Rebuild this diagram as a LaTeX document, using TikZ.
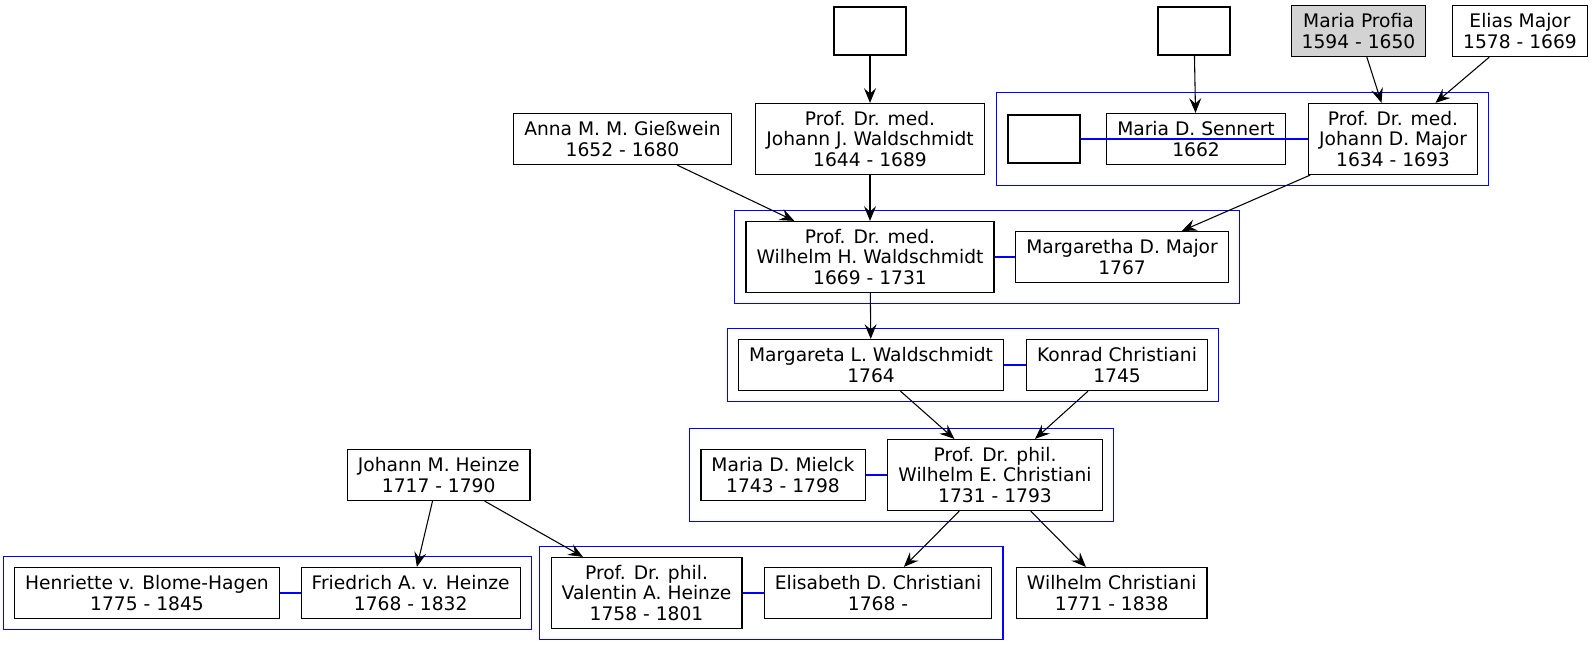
\documentclass[tikz,border=0pt]{standalone}
\usepackage{fontspec}
\setmainfont{DejaVu Sans}
\usetikzlibrary{arrows.meta,fit}
\definecolor{profiagray}{HTML}{D3D3D3}

\begin{document}
\begin{tikzpicture}[x=0.75pt, y=-0.75pt,
		person/.style={draw, line width=0.9pt, align=center, inner xsep=7.92pt, inner ysep=2pt, minimum height=38.25pt, font=\fontsize{14}{15.2}\selectfont},
		prof/.style={person, minimum height=53.25pt},
		blank/.style={draw, line width=0.9pt, minimum width=54pt, minimum height=36pt},
		family/.style={draw=blue, line width=0.9pt, inner sep=8pt},
		marriage/.style={draw=blue, line width=2pt},
		child/.style={-{Stealth[length=11pt, width=9pt, inset=4pt]}, line width=0.8pt}]
	\useasboundingbox (0,0) rectangle (1594,645);
	\node[blank] (b1) at (870,31) {};
	\node[blank] (b2) at (1194,31) {};
	\node[person, fill=profiagray] (profia) at (1358.5,31) {Maria Profia\\1594 - 1650};
	\node[person] (elias) at (1520,31) {Elias Major\\1578 - 1669};
	\node[person] (anna) at (622.5,139) {Anna M. M. Gießwein\\1652 - 1680};
	\node[prof] (jjw) at (870,139) {Prof. Dr. med.\\Johann J. Waldschmidt\\1644 - 1689};
	\node[blank] (b3) at (1044,139) {};
	\node[person] (sen) at (1196,139) {Maria D. Sennert\\1662};
	\node[prof] (jdm) at (1393,139) {Prof. Dr. med.\\Johann D. Major\\1634 - 1693};
	\node[prof] (whw) at (870,257) {Prof. Dr. med.\\Wilhelm H. Waldschmidt\\1669 - 1731};
	\node[person] (mdm) at (1122,257) {Margaretha D. Major\\1767};
	\node[person] (mlw) at (871,365) {Margareta L. Waldschmidt\\1764};
	\node[person] (kc) at (1117,365) {Konrad Christiani\\1745};
	\node[person] (mdmi) at (783,475) {Maria D. Mielck\\1743 - 1798};
	\node[prof] (wec) at (995,475) {Prof. Dr. phil.\\Wilhelm E. Christiani\\1731 - 1793};
	\node[person] (jmh) at (438.7,475) {Johann M. Heinze\\1717 - 1790};
	\node[person] (hen) at (147,593) {Henriette v. Blome-Hagen\\1775 - 1845};
	\node[person] (fah) at (410.7,593) {Friedrich A. v. Heinze\\1768 - 1832};
	\node[prof] (vah) at (646.5,593) {Prof. Dr. phil.\\Valentin A. Heinze\\1758 - 1801};
	\node[person] (edc) at (878,593) {Elisabeth D. Christiani\\1768 -};
	\node[person] (wc) at (1111.7,593) {Wilhelm Christiani\\1771 - 1838};

	\node[family, fit=(b3)(sen)(jdm)] {};
	\node[family, fit=(whw)(mdm)] {};
	\node[family, fit=(mlw)(kc)] {};
	\node[family, fit=(mdmi)(wec)] {};
	\node[family, fit=(hen)(fah)] {};
	\node[family, fit=(vah)(edc)] {};

	\draw[marriage] (b3) -- (jdm);
	\draw[marriage] (whw) -- (mdm);
	\draw[marriage] (mlw) -- (kc);
	\draw[marriage] (mdmi) -- (wec);
	\draw[marriage] (hen) -- (fah);
	\draw[marriage] (vah) -- (edc);

	\draw[child] (b1) -- (jjw);
	\draw[child] (jjw) -- (whw);
	\draw[child] (anna) -- (whw);
	\draw[child] (b2) -- (sen);
	\draw[child] (profia) -- (jdm);
	\draw[child] (elias) -- (jdm);
	\draw[child] (jdm) -- (mdm);
	\draw[child] (whw) -- (mlw);
	\draw[child] (mlw) -- (wec);
	\draw[child] (kc) -- (wec);
	\draw[child] (wec) -- (edc);
	\draw[child] (wec) -- (wc);
	\draw[child] (jmh) -- (fah);
	\draw[child] (jmh) -- (vah);
\end{tikzpicture}
\end{document}
